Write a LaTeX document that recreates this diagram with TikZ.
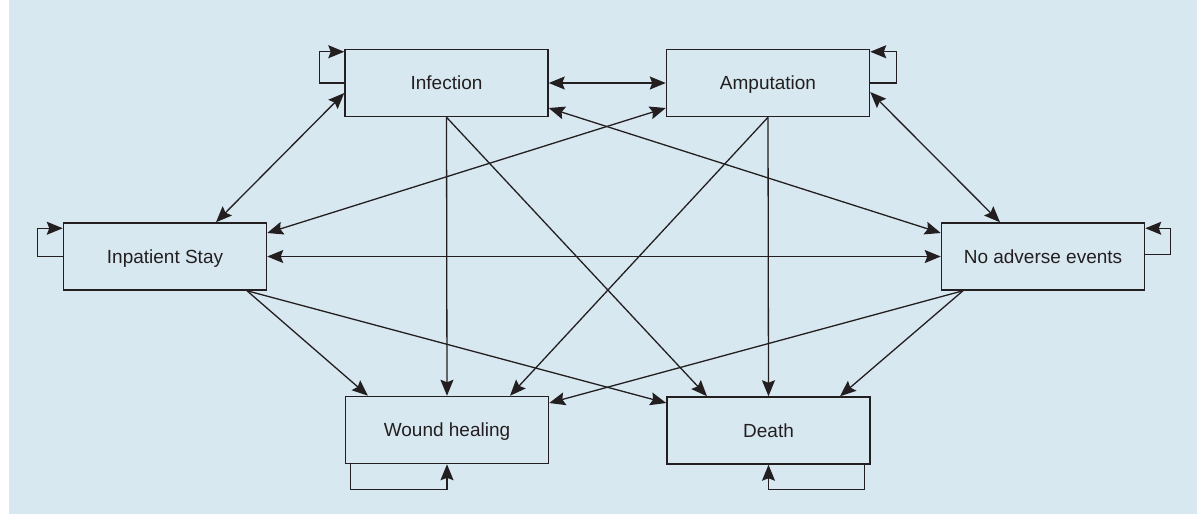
\documentclass[tikz,border=0pt]{standalone}
\usepackage{fontspec}
\setmainfont{Liberation Sans}
\usetikzlibrary{arrows.meta}
\definecolor{bgblue}{RGB}{216,232,240}
\definecolor{ink}{RGB}{35,31,32}
\begin{document}
\begin{tikzpicture}[x=1pt,y=-1pt,
  statebox/.style={draw=ink,line width=1.5pt,minimum width=203pt,minimum height=67pt,inner sep=0pt,
    text height=13.7pt,text depth=0pt,
    font=\fontsize{19pt}{22pt}\selectfont,text=ink},
  conn/.style={draw=ink,line width=1.3pt},
  one/.style={conn,-{Stealth[length=16pt,width=13pt,inset=2.5pt]}},
  two/.style={conn,{Stealth[length=16pt,width=13pt,inset=2.5pt]}-{Stealth[length=16pt,width=13pt,inset=2.5pt]}}]
\useasboundingbox (0,0) rectangle (1197,515);
\fill[bgblue] (9,0) rectangle (1197,514);
\node[statebox] (inf) at (446.5,83) {Infection};
\node[statebox] (amp) at (768,83) {Amputation};
\node[statebox] (inp) at (165,256.5) {Inpatient Stay};
\node[statebox] (noa) at (1043,256.5) {No adverse events};
\node[statebox] (wh) at (447,430) {Wound healing};
\node[statebox] (dth) at (768.5,430.5) {Death};
% self loops
\draw[one] (inf.west) -- ++(-25pt,0) |- ([yshift=-3pt]inf.north west);
\draw[one] (amp.east) -- ++(26pt,0) |- ([yshift=-3pt]amp.north east);
\draw[one] (inp.west) -- ++(-25pt,0) |- ([yshift=-6pt]inp.north west);
\draw[one] ([yshift=2pt]noa.east) -- ++(25pt,0) |- ([yshift=-6pt]noa.north east);
\draw[one] ([xshift=6pt]wh.south west) -- ++(0,-25pt) -| (wh.south);
\draw[one] ([xshift=-6pt]dth.south east) -- ++(0,-25pt) -| (dth.south);
% two-way connectors
\draw[two] (inf.east) -- (amp.west);
\draw[two] ([yshift=-10pt]inf.west) -- ([xshift=51pt]inp.north);
\draw[two] ([yshift=-25pt]amp.west) -- ([yshift=23.5pt]inp.east);
\draw[two] ([yshift=-25pt]inf.east) -- ([yshift=23.5pt]noa.west);
\draw[two] ([yshift=-9pt]amp.east) -- ([xshift=-43pt]noa.north);
\draw[two] (inp.east) -- (noa.west);
% one-way connectors
\draw[one] (inf.south) -- (wh.north);
\draw[one] (inf.south) -- ([xshift=-61.5pt]dth.north);
\draw[one] (amp.south) -- (dth.north);
\draw[one] (amp.south) -- ([xshift=63pt]wh.north);
\draw[one] ([xshift=82pt]inp.south) -- ([xshift=-79pt]wh.north);
\draw[one] ([xshift=82pt]inp.south) -- ([yshift=27.5pt]dth.west);
\draw[one] ([xshift=-80pt]noa.south) -- ([yshift=27pt]wh.east);
\draw[one] ([xshift=-80pt]noa.south) -- ([xshift=71.5pt]dth.north);
\end{tikzpicture}
\end{document}
